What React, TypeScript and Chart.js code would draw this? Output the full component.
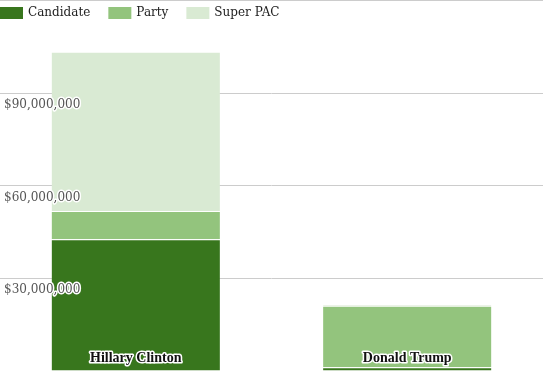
import React, { useEffect, useRef } from "react";
import { Chart, registerables } from "chart.js";

Chart.register(...registerables);

const categories = ["Hillary Clinton", "Donald Trump"];
const candidateValues = [42700000, 1200000];
const partyValues = [9100000, 19900000];
const superPacValues = [51600000, 600000];
const yTickValues = [30000000, 60000000, 90000000];
const yTickLabels = ["$30,000,000", "$60,000,000", "$90,000,000"];
const seriesNames = ["Candidate", "Party", "Super PAC"];
const seriesColors = ["#38761d", "#93c47d", "#d9ead3"];

const overlayPlugin = {
  id: "overlay",
  afterDatasetsDraw(chart: any) {
    const ctx = chart.ctx as CanvasRenderingContext2D;
    const y = chart.scales.y;
    const x = chart.scales.x;
    ctx.save();
    ctx.lineJoin = "round";
    ctx.font = '12px "DejaVu Serif"';
    ctx.textAlign = "left";
    ctx.textBaseline = "alphabetic";
    yTickValues.forEach((v, i) => {
      const py = y.getPixelForValue(v);
      ctx.lineWidth = 3;
      ctx.strokeStyle = "#ffffff";
      ctx.strokeText(yTickLabels[i], 4, py + 15);
      ctx.fillStyle = "#555555";
      ctx.fillText(yTickLabels[i], 4, py + 15);
    });
    ctx.font = 'bold 14px "Liberation Serif"';
    ctx.textAlign = "center";
    categories.forEach((c, i) => {
      const px = x.getPixelForValue(i);
      ctx.lineWidth = 3;
      ctx.strokeStyle = "#ffffff";
      ctx.strokeText(c, px, 362);
      ctx.fillStyle = "#111111";
      ctx.fillText(c, px, 362);
    });
    ctx.font = '12px "DejaVu Serif"';
    ctx.textAlign = "left";
    ctx.textBaseline = "middle";
    let lx = 0;
    seriesNames.forEach((n, i) => {
      ctx.fillStyle = seriesColors[i];
      ctx.fillRect(lx, 7, 23, 12);
      ctx.fillStyle = "#222222";
      ctx.fillText(n, lx + 28, 13);
      lx += 28 + ctx.measureText(n).width + 18;
    });
    ctx.restore();
  },
};

export default function App() {
  const ref = useRef<HTMLCanvasElement | null>(null);
  useEffect(() => {
    document.body.style.margin = "0";
    if (!ref.current) return;
    const mk = (label: string, data: number[], color: string) => ({
      label,
      data,
      backgroundColor: color,
      borderColor: "#ffffff",
      borderWidth: { top: 1, left: 0, right: 0, bottom: 0 },
      borderSkipped: false,
      barPercentage: 0.62,
      categoryPercentage: 1,
    });
    const chart = new Chart(ref.current, {
      type: "bar",
      data: {
        labels: categories,
        datasets: [
          mk(seriesNames[0], candidateValues, seriesColors[0]),
          mk(seriesNames[1], partyValues, seriesColors[1]),
          mk(seriesNames[2], superPacValues, seriesColors[2]),
        ],
      },
      options: {
        animation: false,
        responsive: false,
        maintainAspectRatio: false,
        layout: { padding: { top: 0.5, left: 0, right: 0, bottom: 0 } },
        plugins: { legend: { display: false }, tooltip: { enabled: false } },
        scales: {
          x: {
            stacked: true,
            grid: { display: false, drawTicks: false },
            ticks: { display: false },
            border: { display: true, color: "#333333", width: 1 },
          },
          y: {
            stacked: true,
            min: 0,
            max: 120000000,
            ticks: { display: false, stepSize: 30000000 },
            grid: { color: "#cccccc", drawTicks: false },
            border: { display: false },
          },
        },
      },
      plugins: [overlayPlugin],
    });
    return () => chart.destroy();
  }, []);
  return (
    <div style={{ width: 543, height: 371 }}>
      <canvas ref={ref} width={543} height={371} style={{ display: "block" }} />
    </div>
  );
}
